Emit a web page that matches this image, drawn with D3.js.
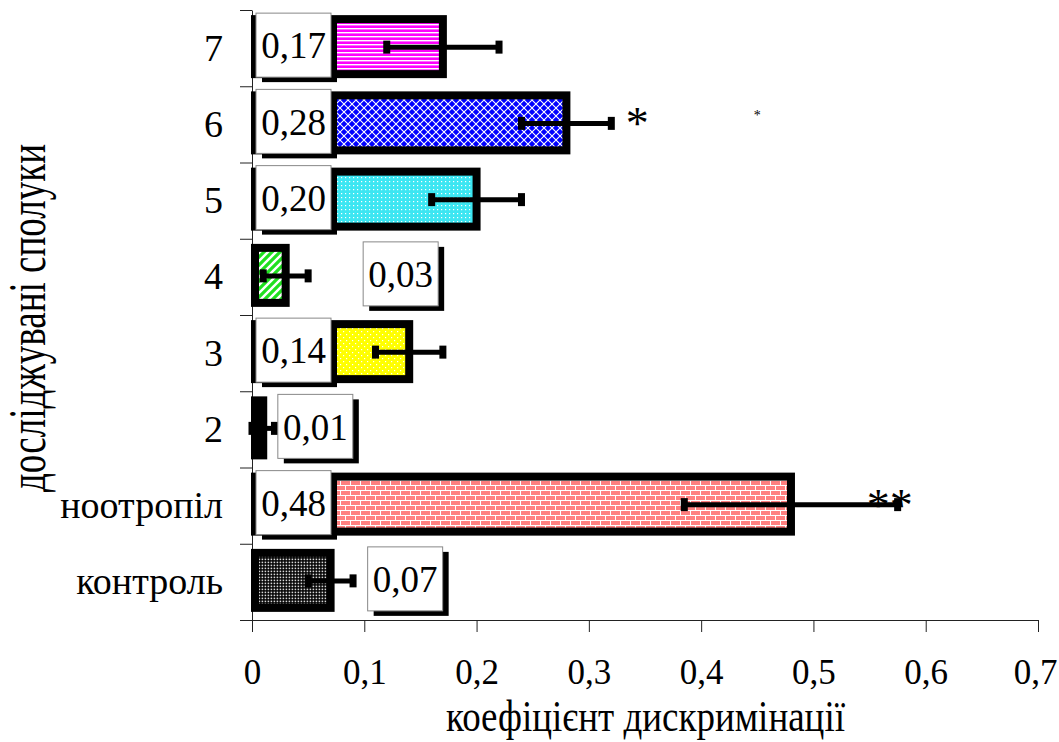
<!DOCTYPE html>
<html>
<head>
<meta charset="utf-8">
<script src="https://cdn.jsdelivr.net/npm/d3@7"></script>
<style>
  body { margin: 0; background: #fff; }
  text { font-family: "Liberation Serif", "Times New Roman", "DejaVu Serif", serif; fill: #000; }
</style>
</head>
<body>
<svg id="chart"></svg>
<script>
// bottom to top, as on the chart
const categories = ['контроль', 'ноотропіл', '2', '3', '4', '5', '6', '7'];
const values = [0.07, 0.48, 0.01, 0.14, 0.03, 0.20, 0.28, 0.17];
const errors = [0.02, 0.095, 0.01, 0.03, 0.02, 0.04, 0.04, 0.05];
const marks = ['', '**', '', '', '', '', '*', ''];
const xTicks = [0, 0.1, 0.2, 0.3, 0.4, 0.5, 0.6, 0.7];

const width = 1059;
const height = 742;
const svg = d3.select('#chart').attr('width', width).attr('height', height);

const x = d3.scaleLinear().domain([0, 0.7]).range([252, 1038]);
const y = d3.scaleBand().domain(categories).range([620, 10]);
const yEdge = d3.scaleLinear().domain([0, categories.length]).range([620, 10]);
const comma = (v) => d3.format('.2f')(v).replace('.', ',');

// where Excel put the small value boxes (data units, left edge); null = inside the bar
const labelAt = [0.103, null, 0.023, null, 0.099, null, null, null];
// asterisk anchors (data units)
const markAt = [null, 0.568, null, null, null, null, 0.343, null];

// fill patterns
const defs = svg.append('defs');
function pat(id, w, h, bg) {
  const p = defs.append('pattern').attr('id', id)
    .attr('patternUnits', 'userSpaceOnUse').attr('width', w).attr('height', h);
  p.append('rect').attr('width', w).attr('height', h).attr('fill', bg);
  return p;
}
let p = pat('p0', 3, 3, '#000');
p.append('rect').attr('x', 0.6).attr('y', 0.6).attr('width', 1.6).attr('height', 1.6).attr('fill', '#d8d8d8');
p = pat('p1', 10, 10, '#ff8080');
p.append('rect').attr('width', 10).attr('height', 1).attr('fill', '#fff');
p.append('rect').attr('y', 5).attr('width', 10).attr('height', 1).attr('fill', '#fff');
p.append('rect').attr('width', 1).attr('height', 5).attr('fill', '#fff');
p.append('rect').attr('x', 5).attr('y', 5).attr('width', 1).attr('height', 5).attr('fill', '#fff');
p = pat('p2', 4, 4, '#000');
p.append('rect').attr('x', 1).attr('y', 1).attr('width', 2).attr('height', 2).attr('fill', '#ccc');
p = pat('p3', 6, 6, '#ffff00');
p.append('rect').attr('x', 1).attr('y', 1).attr('width', 1.2).attr('height', 1.2).attr('fill', '#fff');
p.append('rect').attr('x', 4).attr('y', 4).attr('width', 1.2).attr('height', 1.2).attr('fill', '#fff');
p = pat('p4', 8, 8, '#1fe01f');
p.append('path').attr('d', 'M0,8L8,0M-2,2L2,-2M6,10L10,6').attr('stroke', '#fff').attr('stroke-width', 2.4);
p = pat('p5', 4, 4, '#3ce6f2');
p.append('rect').attr('x', 1).attr('y', 1).attr('width', 1.2).attr('height', 1.2).attr('fill', '#fff');
p = pat('p6', 8, 8, '#0000ff');
p.append('path').attr('d', 'M0,0L8,8M8,0L0,8').attr('stroke', '#fff').attr('stroke-width', 1.1);
p = pat('p7', 4, 4, '#ff00ff');
p.append('rect').attr('width', 4).attr('height', 1.4).attr('fill', '#fff');

const rows = categories.map((c, i) => ({
  c, i, v: values[i], e: errors[i], mark: marks[i], at: labelAt[i], markAt: markAt[i],
}));
const mid = (d) => y(d.c) + y.bandwidth() / 2;

// axes
svg.append('g')
  .attr('transform', `translate(0, 620)`)
  .call(d3.axisBottom(x).tickValues(xTicks).tickSize(12).tickSizeOuter(0)
    .tickFormat((v) => (v === 0 ? '0' : d3.format('.1f')(v).replace('.', ','))))
  .call((g) => g.selectAll('line, path').attr('stroke', '#222'))
  .call((g) => g.selectAll('text').attr('y', 64).attr('dy', 0)
    .attr('dx', (v) => (v === 0.7 ? -3 : 0))
    .style('font-size', '35px'));

svg.append('g')
  .attr('transform', `translate(252, 0)`)
  .call(d3.axisLeft(yEdge).ticks(categories.length).tickSize(12).tickSizeOuter(0).tickFormat(''))
  .call((g) => g.selectAll('line, path').attr('stroke', '#222'));

svg.append('g')
  .attr('transform', `translate(252, 0)`)
  .call(d3.axisLeft(y).tickSize(0).tickPadding(29))
  .call((g) => g.select('.domain').remove())
  .call((g) => g.selectAll('text').attr('dy', '0.33em').style('font-size', '38px'));

// bars
svg.append('g').selectAll('rect')
  .data(rows)
  .join('rect')
  .attr('x', x(0) + 3)
  .attr('y', (d) => mid(d) - 29)
  .attr('width', (d) => Math.max(x(d.v) - x(0) - 3, 1))
  .attr('height', 55)
  .attr('fill', (d) => `url(#p${d.i})`)
  .attr('stroke', '#000')
  .attr('stroke-width', 8);

// error bars
const err = svg.append('g').selectAll('g').data(rows).join('g');
err.append('line')
  .attr('x1', (d) => x(d.v - d.e))
  .attr('x2', (d) => x(d.v + d.e))
  .attr('y1', (d) => mid(d) - 1)
  .attr('y2', (d) => mid(d) - 1)
  .attr('stroke', '#000')
  .attr('stroke-width', 5);
err.selectAll('rect')
  .data((d) => [d.v - d.e, d.v + d.e].map((v) => ({ v, m: mid(d) })))
  .join('rect')
  .attr('x', (d) => x(d.v) - 3.5)
  .attr('y', (d) => d.m - 7.5)
  .attr('width', 7)
  .attr('height', 13)
  .attr('fill', '#000');

// value boxes
const box = svg.append('g').selectAll('g').data(rows).join('g')
  .attr('transform', (d) => `translate(${d.at === null ? x(0) + 4 : x(d.at)}, ${mid(d) - 35})`);
box.append('rect').attr('x', 6).attr('y', 5).attr('width', 75).attr('height', 64).attr('fill', '#000');
box.append('rect').attr('width', 75).attr('height', 64)
  .attr('fill', '#fff').attr('stroke', '#888').attr('stroke-width', 1);
box.append('text')
  .attr('x', 37.5).attr('y', 32).attr('dy', '0.36em')
  .attr('text-anchor', 'middle')
  .style('font-size', '37px')
  .text((d) => comma(d.v));

// significance marks
svg.append('g').selectAll('text')
  .data(rows.filter((d) => d.mark))
  .join('text')
  .attr('x', (d) => x(d.markAt))
  .attr('y', (d) => mid(d) + 15)
  .attr('text-anchor', 'middle')
  .style('font-size', '46px')
  .text((d) => d.mark);
svg.append('text')
  .attr('x', x(0.45)).attr('y', mid(rows[6]) - 4)
  .attr('text-anchor', 'middle')
  .style('font-size', '14px')
  .text('*');

// axis titles
svg.append('text')
  .attr('transform', `translate(${x(0.35) + 0.5}, 731) scale(1, 1.2)`)
  .attr('text-anchor', 'middle')
  .style('font-size', '37px')
  .text('коефіцієнт дискримінації');

svg.append('text')
  .attr('transform', `translate(45, 318) rotate(-90) scale(1, 1.4)`)
  .attr('text-anchor', 'middle')
  .style('font-size', '37px')
  .text('досліджувані сполуки');
</script>
</body>
</html>
